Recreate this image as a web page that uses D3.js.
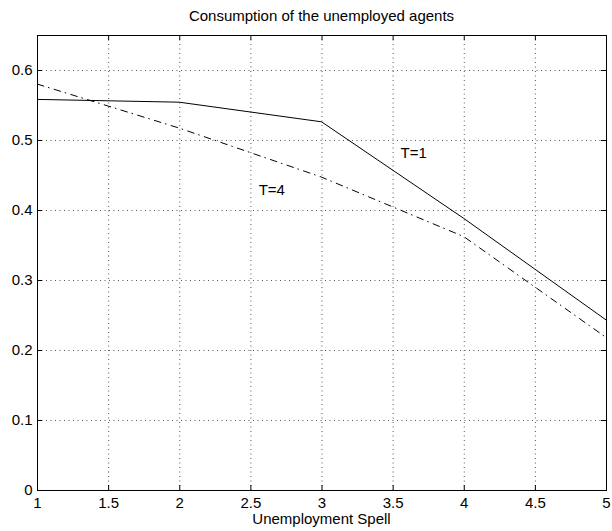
<!DOCTYPE html>
<html>
<head>
<meta charset="utf-8">
<script src="https://cdn.jsdelivr.net/npm/d3@7"></script>
<style>
  body { margin: 0; background: #fff; }
  svg { display: block; }
  text { font-family: "Liberation Sans", Arial, Helvetica, sans-serif; fill: #000; }
</style>
</head>
<body>
<script>
// data
var spell = [1, 2, 3, 4, 5];
var cons_t1 = [0.558, 0.554, 0.526, 0.388, 0.243];
var cons_t4 = [0.580, 0.517, 0.447, 0.362, 0.218];
var x_ticks = [1, 1.5, 2, 2.5, 3, 3.5, 4, 4.5, 5];
var y_ticks = [0, 0.1, 0.2, 0.3, 0.4, 0.5, 0.6];
var x_domain = [1, 5];
var y_domain = [0, 0.65];
var labels = [
    { text: "T=1", x: 3.556, y: 0.474 },
    { text: "T=4", x: 2.558, y: 0.422 }
];

var svg_width = 612;
var svg_height = 531;
var margin = { top: 35, right: 6, bottom: 41, left: 37 };
var plot_w = svg_width - margin.left - margin.right;
var plot_h = svg_height - margin.top - margin.bottom;
var font_size = 15;

var x = d3.scaleLinear().domain(x_domain).range([0, plot_w]);
var y = d3.scaleLinear().domain(y_domain).range([plot_h, 0]);

var svg = d3.select("body").append("svg")
    .attr("width", svg_width).attr("height", svg_height);
var g = svg.append("g").attr("transform", "translate(" + margin.left + "," + margin.top + ")");

render_grid();
render_lines();
render_axis();
render_text();

// dotted grid
function render_grid() {
    var grid = g.append("g").attr("class", "grid")
        .attr("stroke", "#555").attr("stroke-width", 1).attr("stroke-dasharray", "1,3.5");
    grid.selectAll("line.vx")
        .data(x_ticks.slice(1, -1))
        .enter().append("line").attr("class", "vx")
        .attr("x1", function(d) { return x(d) + 0.5; })
        .attr("x2", function(d) { return x(d) + 0.5; })
        .attr("y1", 0).attr("y2", plot_h);
    grid.selectAll("line.hy")
        .data(y_ticks.slice(1))
        .enter().append("line").attr("class", "hy")
        .attr("y1", function(d) { return y(d) + 0.5; })
        .attr("y2", function(d) { return y(d) + 0.5; })
        .attr("x1", 0).attr("x2", plot_w);
}

function render_lines() {
    var line = d3.line()
        .x(function(d, i) { return x(spell[i]); })
        .y(function(d) { return y(d); });
    g.append("path").datum(cons_t1)
        .attr("d", line).attr("fill", "none")
        .attr("stroke", "#000").attr("stroke-width", 1);
    g.append("path").datum(cons_t4)
        .attr("d", line).attr("fill", "none")
        .attr("stroke", "#000").attr("stroke-width", 1)
        .attr("stroke-dasharray", "7.5,4,1.5,4.5");
}

// box with inward ticks on all four sides
function render_axis() {
    var fmt = function(d) { return String(d); };
    var bottom = g.append("g").attr("transform", "translate(0," + plot_h + ")")
        .call(d3.axisBottom(x).tickValues(x_ticks).tickFormat(fmt).tickSize(-5).tickPadding(7.5));
    var left = g.append("g")
        .call(d3.axisLeft(y).tickValues(y_ticks).tickFormat(fmt).tickSize(-5).tickPadding(4.5));
    var top = g.append("g")
        .call(d3.axisTop(x).tickValues(x_ticks).tickFormat("").tickSize(-5));
    var right = g.append("g").attr("transform", "translate(" + plot_w + ",0)")
        .call(d3.axisRight(y).tickValues(y_ticks).tickFormat("").tickSize(-5));
    [bottom, left, top, right].forEach(function(a) {
        a.selectAll(".domain").remove();
        a.selectAll("line").attr("stroke", "#000");
        a.selectAll("text").attr("font-size", font_size)
            .attr("font-family", "Liberation Sans, Arial, sans-serif").attr("fill", "#000");
    });
    g.append("rect")
        .attr("x", 0.5).attr("y", 0.5).attr("width", plot_w).attr("height", plot_h)
        .attr("fill", "none").attr("stroke", "#000").attr("stroke-width", 1);
}

function render_text() {
    svg.append("text")
        .attr("x", margin.left + plot_w / 2).attr("y", 21)
        .attr("text-anchor", "middle").attr("font-size", font_size)
        .text("Consumption of the unemployed agents");
    svg.append("text")
        .attr("x", margin.left + plot_w / 2).attr("y", 524)
        .attr("text-anchor", "middle").attr("font-size", font_size)
        .text("Unemployment Spell");
    g.selectAll("text.lab")
        .data(labels)
        .enter().append("text").attr("class", "lab")
        .attr("x", function(d) { return x(d.x); })
        .attr("y", function(d) { return y(d.y); })
        .attr("font-size", font_size)
        .text(function(d) { return d.text; });
}
</script>
</body>
</html>
